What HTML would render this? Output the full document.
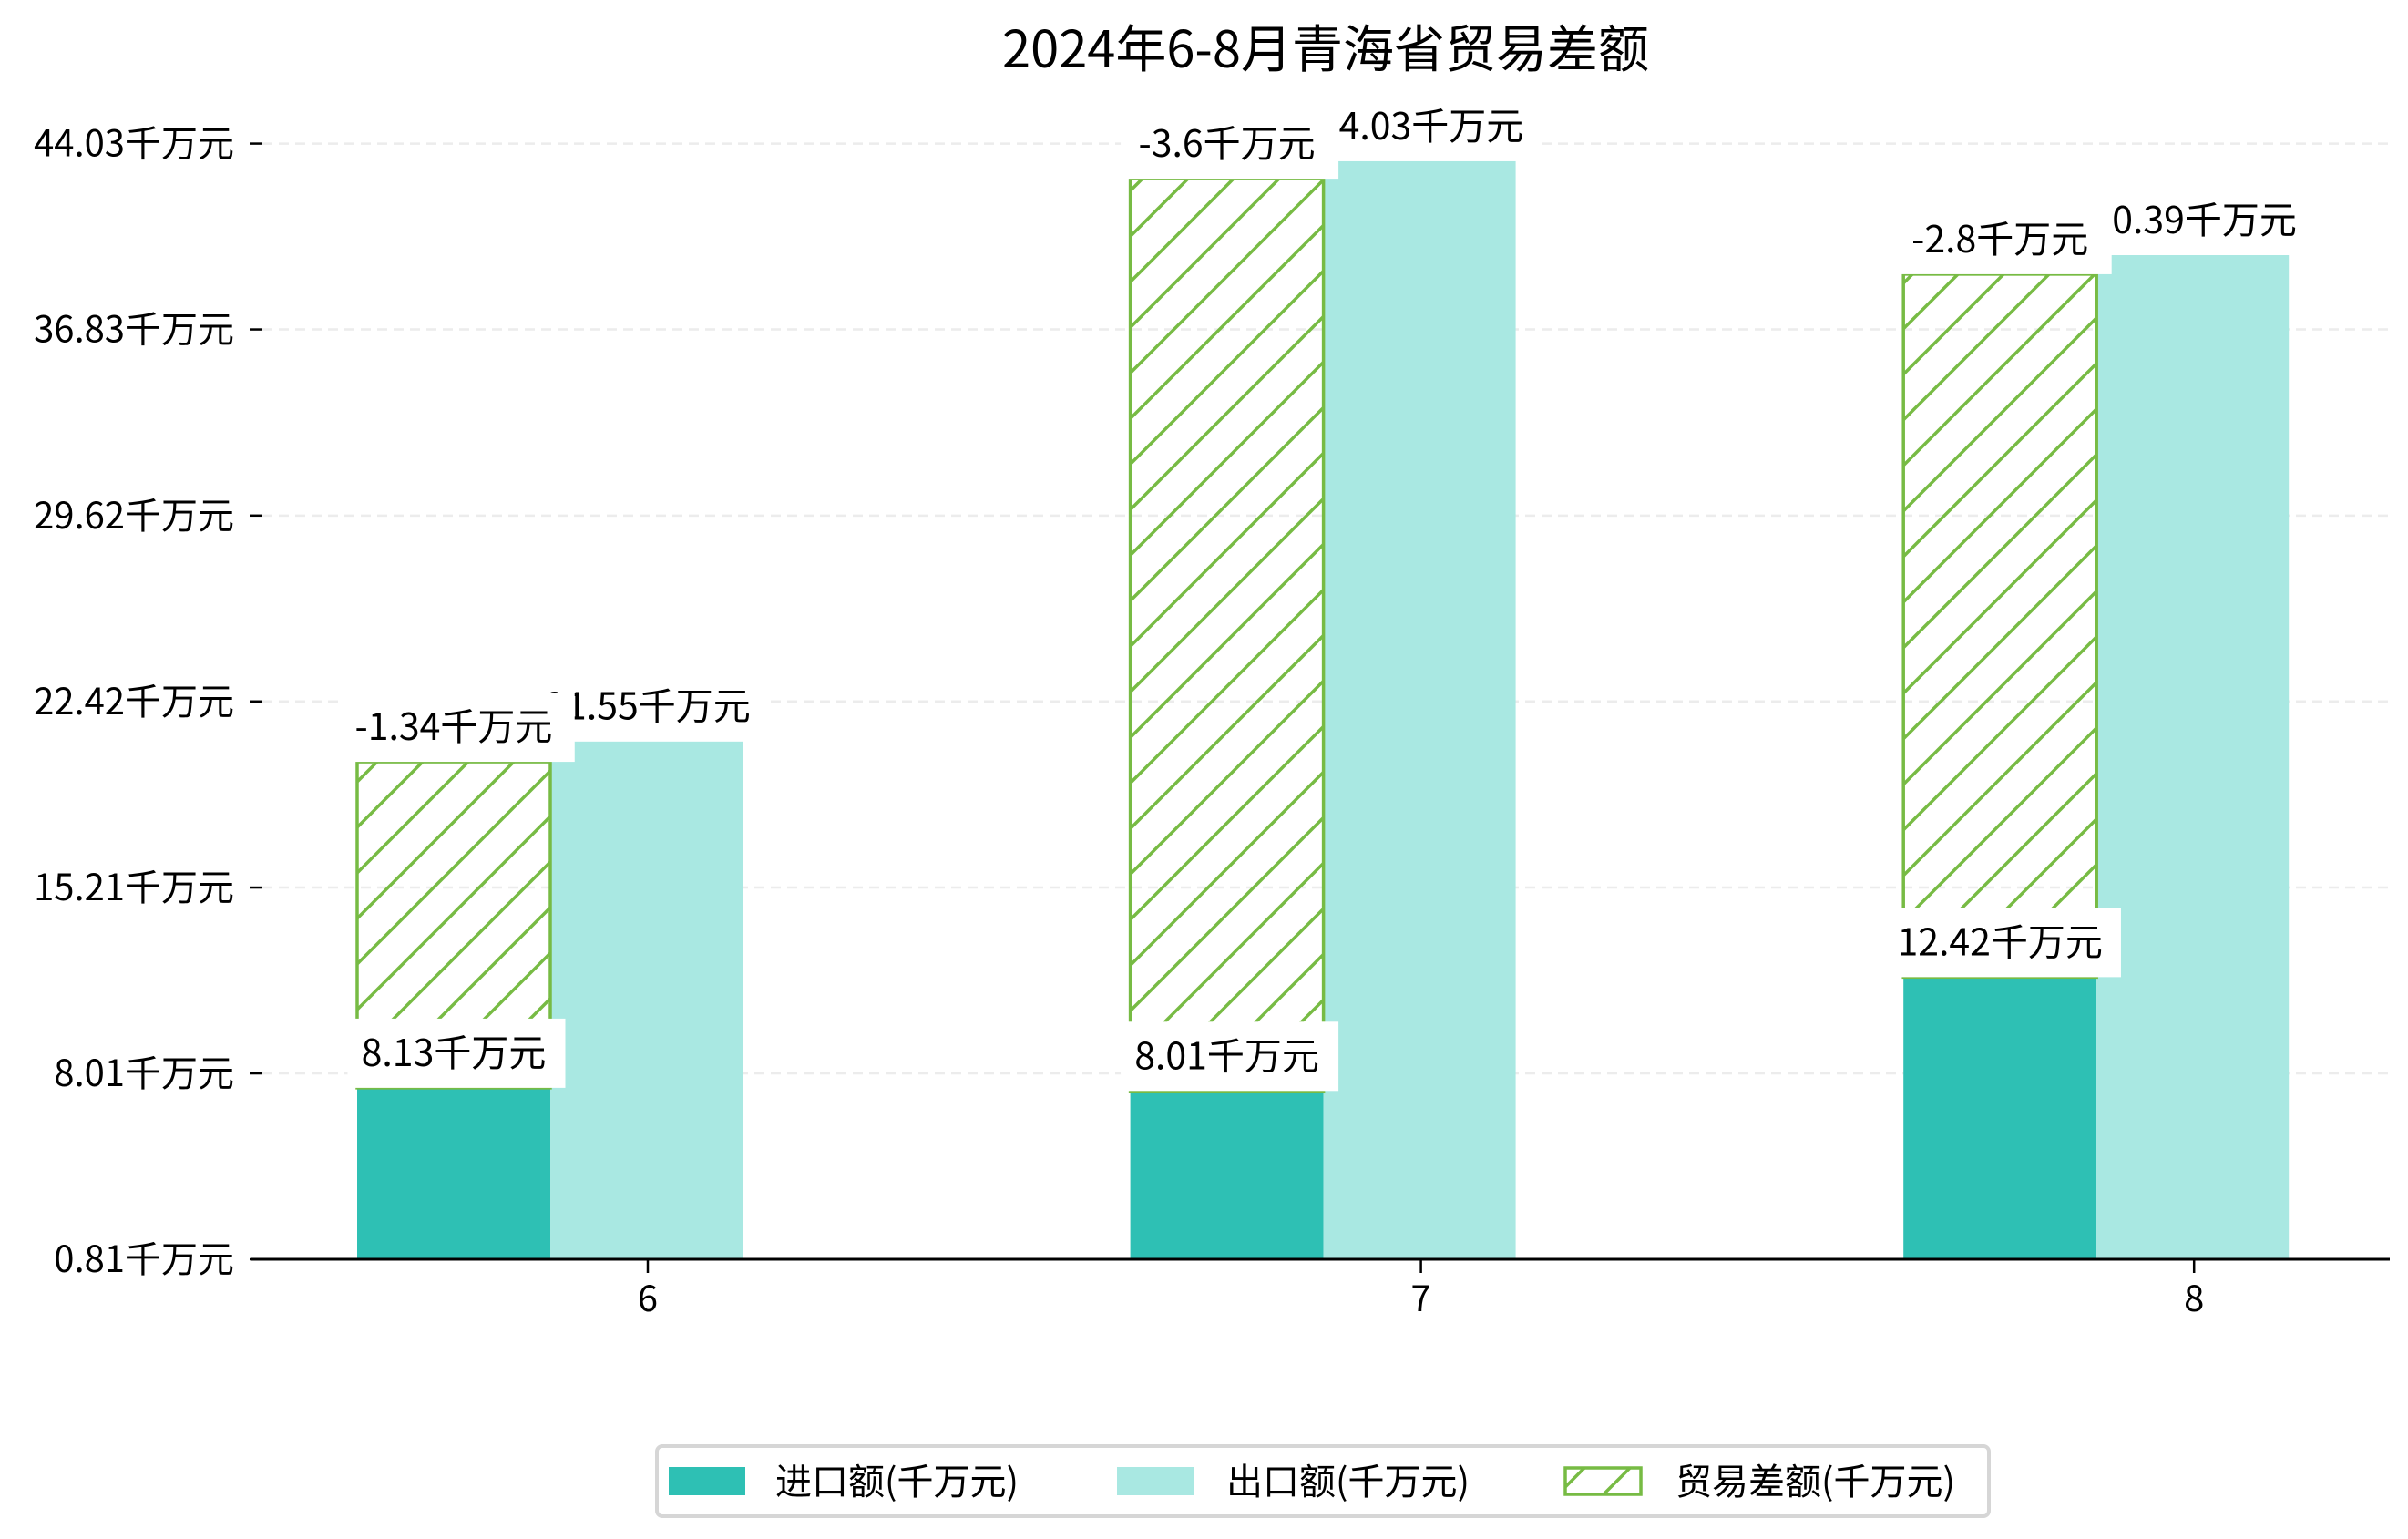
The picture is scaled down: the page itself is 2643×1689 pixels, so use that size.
<!DOCTYPE html>
<html><head><meta charset="utf-8">
<style>
html,body{margin:0;padding:0;background:#fff;}
svg{display:block;font-family:"WenQuanYi Zen Hei","Noto Sans CJK SC","Liberation Sans",sans-serif;}
</style></head>
<body>
<svg id="chart" width="2643" height="1689" viewBox="0 0 2643 1689" xmlns="http://www.w3.org/2000/svg">
<defs>
<pattern id="hatch" patternUnits="userSpaceOnUse" width="50" height="50">
<path d="M-5,5 L5,-5 M0,50 L50,0 M45,55 L55,45" stroke="#77bb44" stroke-width="3.5"/>
</pattern>
</defs>
<rect width="2643" height="1689" fill="#fff"/>
<text x="1455" y="74" font-size="56" text-anchor="middle" fill="#000">2024年6-8月青海省贸易差额</text>
<g id="grid"></g>
<g id="bars"></g>
<g id="labels"></g>
<g id="axes"></g>
<g>
<rect x="721" y="1587" width="1462" height="77" rx="6" fill="#fff" stroke="#d6d6d6" stroke-width="4"/>
<rect x="734" y="1610" width="84" height="31" fill="#2ec0b4"/>
<text x="851" y="1640" font-size="40" fill="#000">进口额(千万元)</text>
<rect x="1226" y="1610" width="84" height="31" fill="#a9e8e2"/>
<text x="1346" y="1640" font-size="40" fill="#000">出口额(千万元)</text>
<rect x="1718" y="1611" width="83" height="29" fill="url(#hatch)" stroke="#77bb44" stroke-width="3.5"/>
<text x="1839" y="1640" font-size="40" fill="#000">贸易差额(千万元)</text>
</g>
</svg>
<script>
const months = ['6','7','8'];
const imports = [8.13, 8.01, 12.42];
const exports = [21.55, 44.03, 40.39];
const balance = [-1.34, -3.6, -2.8];
const hatchTop = [20.76, 43.35, 39.65];
const yTickValues = [1.49, 8.69, 15.89, 23.10, 30.30, 37.51, 44.71];
const yTickLabels = ['0.81','8.01','15.21','22.42','29.62','36.83','44.03'];

const NS = 'http://www.w3.org/2000/svg';
const baseY = 1382, vMin = 1.49, pxPerUnit = 28.33;
function y(v){ return baseY - (v - vMin) * pxPerUnit; }
const x0 = 711, step = 848.6;
function xc(i){ return x0 + i * step; }
function mk(tag, attrs, parent){
  const e = document.createElementNS(NS, tag);
  for (const k in attrs) e.setAttribute(k, attrs[k]);
  parent.appendChild(e); return e;
}
const grid = document.getElementById('grid');
const bars = document.getElementById('bars');
const labels = document.getElementById('labels');
const axes = document.getElementById('axes');

yTickValues.forEach((v, i) => {
  const ty = y(v);
  if (i > 0) {
    const g = mk('line', {x1:288, x2:2623, y1:ty, y2:ty, stroke:'#ececec', 'stroke-width':2.5, 'stroke-dasharray':'11 7'}, grid);
    
    
  }
  const t = mk('line', {x1:274, x2:288, y1:ty, y2:ty, stroke:'#000', 'stroke-width':2.5}, axes);
  
  
  const l = mk('text', {x:257, y:ty + 14, 'font-size':40, 'text-anchor':'end', fill:'#000'}, axes);
  l.textContent = yTickLabels[i] + '千万元';
  
  
});

const base = mk('line', {x1:276, x2:2623, y1:baseY, y2:baseY, stroke:'#000', 'stroke-width':3}, axes);



function label(cx, bottom, txt, name){
  const tw = (txt.replace(/[千万元]/g,'').length * 0.5 + 3) * 41;
  const r = mk('rect', {x:cx - tw/2 - 14, y:bottom - 76, width:tw + 34, height:76, fill:'#fff'}, labels);
  
  
  const t = mk('text', {x:cx, y:bottom - 24, 'font-size':41, 'text-anchor':'middle', fill:'#000'}, labels);
  t.textContent = txt;
  
  
}

months.forEach((m, i) => {
  const c = xc(i);
  const il = c - 319, mid = c - 107, er = c + 104;
  const ib = mk('rect', {x:il, y:y(imports[i]), width:mid - il, height:baseY - y(imports[i]), fill:'#2ec0b4'}, bars);
  
  
  const eb = mk('rect', {x:mid, y:y(exports[i]), width:er - mid, height:baseY - y(exports[i]), fill:'#a9e8e2'}, bars);
  
  
  const hb = mk('rect', {x:il, y:y(hatchTop[i]), width:mid - il, height:y(imports[i]) - y(hatchTop[i]), fill:'url(#hatch)', stroke:'#77bb44', 'stroke-width':3.5}, bars);
  
  
  const tk = mk('line', {x1:c, x2:c, y1:baseY, y2:baseY + 15, stroke:'#000', 'stroke-width':2.5}, axes);
  
  
  const xl = mk('text', {x:c, y:1439, 'font-size':40, 'text-anchor':'middle', fill:'#000'}, axes);
  xl.textContent = m;
  
  
});
months.forEach((m, i) => {
  const c = xc(i);
  label(c, y(exports[i]), exports[i].toFixed(2).replace(/\.?0+$/,'') + '千万元', 'export-value-label');
});
months.forEach((m, i) => {
  const c = xc(i);
  const ic = c - 213;
  label(ic, y(hatchTop[i]), String(balance[i]) + '千万元', 'balance-value-label');
  label(ic, y(imports[i]), imports[i].toFixed(2) + '千万元', 'import-value-label');
});
</script>
</body></html>
